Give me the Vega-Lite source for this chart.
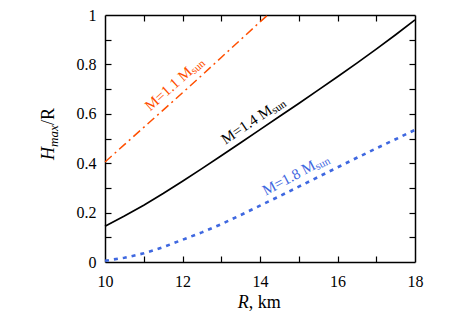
{
  "$schema": "https://vega.github.io/schema/vega-lite/v6.json",
  "width": 310,
  "height": 247,
  "autosize": {"type": "none"},
  "padding": {"left": 105, "top": 15, "right": 48, "bottom": 62},
  "background": "white",
  "config": {
    "font": "Liberation Serif",
    "view": {"stroke": null},
    "axis": {
      "grid": false,
      "domainColor": "black",
      "domainWidth": 1.5,
      "ticks": false,
      "tickColor": "black",
      "tickWidth": 1.2,
      "tickSize": 6,
      "labelColor": "black",
      "labelFont": "Liberation Serif",
      "labelFontSize": 16,
      "labelFlush": false,
      "labelOverlap": false,
      "zindex": 1,
      "title": null
    }
  },
  "datasets": {
    "curves": [
      {"M": "1.1", "R": 10, "H": 0.405}, {"M": "1.1", "R": 10.5, "H": 0.475}, {"M": "1.1", "R": 11, "H": 0.545},
      {"M": "1.1", "R": 11.5, "H": 0.615}, {"M": "1.1", "R": 12, "H": 0.685}, {"M": "1.1", "R": 12.5, "H": 0.756},
      {"M": "1.1", "R": 13, "H": 0.828}, {"M": "1.1", "R": 13.5, "H": 0.9}, {"M": "1.1", "R": 14, "H": 0.972},
      {"M": "1.1", "R": 14.2, "H": 1.0},
      {"M": "1.4", "R": 10, "H": 0.145}, {"M": "1.4", "R": 10.5, "H": 0.186}, {"M": "1.4", "R": 11, "H": 0.23},
      {"M": "1.4", "R": 11.5, "H": 0.277}, {"M": "1.4", "R": 12, "H": 0.327}, {"M": "1.4", "R": 12.5, "H": 0.378},
      {"M": "1.4", "R": 13, "H": 0.43}, {"M": "1.4", "R": 13.5, "H": 0.483}, {"M": "1.4", "R": 14, "H": 0.536},
      {"M": "1.4", "R": 14.5, "H": 0.589}, {"M": "1.4", "R": 15, "H": 0.642}, {"M": "1.4", "R": 15.5, "H": 0.696},
      {"M": "1.4", "R": 16, "H": 0.75}, {"M": "1.4", "R": 16.5, "H": 0.805}, {"M": "1.4", "R": 17, "H": 0.862},
      {"M": "1.4", "R": 17.5, "H": 0.92}, {"M": "1.4", "R": 18, "H": 0.98},
      {"M": "1.8", "R": 10, "H": 0.005}, {"M": "1.8", "R": 10.5, "H": 0.017}, {"M": "1.8", "R": 11, "H": 0.035},
      {"M": "1.8", "R": 11.5, "H": 0.06}, {"M": "1.8", "R": 12, "H": 0.09}, {"M": "1.8", "R": 12.5, "H": 0.12},
      {"M": "1.8", "R": 13, "H": 0.153}, {"M": "1.8", "R": 13.5, "H": 0.19}, {"M": "1.8", "R": 14, "H": 0.228},
      {"M": "1.8", "R": 14.5, "H": 0.266}, {"M": "1.8", "R": 15, "H": 0.305}, {"M": "1.8", "R": 15.5, "H": 0.344},
      {"M": "1.8", "R": 16, "H": 0.383}, {"M": "1.8", "R": 16.5, "H": 0.422}, {"M": "1.8", "R": 17, "H": 0.46},
      {"M": "1.8", "R": 17.5, "H": 0.497}, {"M": "1.8", "R": 18, "H": 0.535}
    ]
  },
  "layer": [
    {
      "data": {"name": "curves"},
      "transform": [{"filter": "datum.M == '1.1'"}],
      "mark": {"type": "line", "color": "#ff4f00", "strokeWidth": 1.5, "strokeDash": [9, 4, 2, 4]},
      "encoding": {
        "x": {"field": "R", "type": "quantitative", "scale": {"domain": [10, 18], "nice": false, "zero": false}, "axis": {"orient": "bottom", "values": [10, 12, 14, 16, 18], "labelPadding": 11}},
        "y": {"field": "H", "type": "quantitative", "scale": {"domain": [0, 1], "nice": false}, "axis": {"orient": "left", "values": [0, 0.2, 0.4, 0.6, 0.8, 1], "format": "~g", "labelPadding": 9}}
      }
    },
    {
      "data": {"name": "curves"},
      "transform": [{"filter": "datum.M == '1.4'"}],
      "mark": {"type": "line", "color": "black", "strokeWidth": 1.7},
      "encoding": {
        "x": {"field": "R", "type": "quantitative", "axis": {"orient": "top", "values": [10, 18], "labels": false}},
        "y": {"field": "H", "type": "quantitative", "axis": {"orient": "right", "values": [0, 1], "labels": false}}
      }
    },
    {
      "data": {"name": "curves"},
      "transform": [{"filter": "datum.M == '1.8'"}],
      "mark": {"type": "line", "color": "#3f68e0", "strokeWidth": 2.6, "strokeDash": [4, 5]},
      "encoding": {
        "x": {"field": "R", "type": "quantitative", "axis": {"orient": "bottom", "values": [11, 12, 13, 14, 15, 16, 17], "labels": false, "domain": false, "ticks": true, "offset": -6}},
        "y": {"field": "H", "type": "quantitative", "axis": {"orient": "left", "values": [0.1, 0.2, 0.3, 0.4, 0.5, 0.6, 0.7, 0.8, 0.9], "labels": false, "domain": false, "ticks": true, "offset": -6}}
      }
    },
    {
      "data": {"values": [{"R": 12.19, "H": 0.78, "t": "M=1.1 M"}]},
      "mark": {"type": "text", "color": "#ff4f00", "fontSize": 15, "align": "right", "baseline": "middle", "angle": 318},
      "encoding": {
        "text": {"field": "t"},
        "x": {"field": "R", "type": "quantitative", "axis": {"orient": "top", "values": [11, 12, 13, 14, 15, 16, 17], "labels": false, "domain": false, "ticks": true, "offset": -6}},
        "y": {"field": "H", "type": "quantitative", "axis": {"orient": "right", "values": [0.1, 0.2, 0.3, 0.4, 0.5, 0.6, 0.7, 0.8, 0.9], "labels": false, "domain": false, "ticks": true, "offset": -6}}
      }
    },
    {
      "data": {"values": [{"R": 12.19, "H": 0.78, "t": "sun"}]},
      "mark": {"type": "text", "color": "#ff4f00", "fontSize": 11, "align": "left", "baseline": "middle", "angle": 318, "dy": 4},
      "encoding": {"text": {"field": "t"}, "x": {"field": "R", "type": "quantitative", "axis": null}, "y": {"field": "H", "type": "quantitative", "axis": null}}
    },
    {
      "data": {"values": [{"R": 14.27, "H": 0.622, "t": "M=1.4 M"}]},
      "mark": {"type": "text", "color": "black", "fontSize": 15, "align": "right", "baseline": "middle", "angle": 326},
      "encoding": {"text": {"field": "t"}, "x": {"field": "R", "type": "quantitative", "axis": null}, "y": {"field": "H", "type": "quantitative", "axis": null}}
    },
    {
      "data": {"values": [{"R": 14.27, "H": 0.622, "t": "sun"}]},
      "mark": {"type": "text", "color": "black", "fontSize": 11, "align": "left", "baseline": "middle", "angle": 326, "dy": 4},
      "encoding": {"text": {"field": "t"}, "x": {"field": "R", "type": "quantitative", "axis": null}, "y": {"field": "H", "type": "quantitative", "axis": null}}
    },
    {
      "data": {"values": [{"R": 15.4, "H": 0.396, "t": "M=1.8 M"}]},
      "mark": {"type": "text", "color": "#3f68e0", "fontSize": 15, "align": "right", "baseline": "middle", "angle": 332},
      "encoding": {"text": {"field": "t"}, "x": {"field": "R", "type": "quantitative", "axis": null}, "y": {"field": "H", "type": "quantitative", "axis": null}}
    },
    {
      "data": {"values": [{"R": 15.4, "H": 0.396, "t": "sun"}]},
      "mark": {"type": "text", "color": "#3f68e0", "fontSize": 11, "align": "left", "baseline": "middle", "angle": 332, "dy": 4},
      "encoding": {"text": {"field": "t"}, "x": {"field": "R", "type": "quantitative", "axis": null}, "y": {"field": "H", "type": "quantitative", "axis": null}}
    },
    {
      "data": {"values": [{"R": 13.71, "H": -0.165, "t": "R"}]},
      "mark": {"type": "text", "color": "black", "fontSize": 18, "fontStyle": "italic", "align": "right", "baseline": "middle"},
      "encoding": {"text": {"field": "t"}, "x": {"field": "R", "type": "quantitative", "axis": null}, "y": {"field": "H", "type": "quantitative", "axis": null}}
    },
    {
      "data": {"values": [{"R": 13.71, "H": -0.165, "t": ", km"}]},
      "mark": {"type": "text", "color": "black", "fontSize": 18, "align": "left", "baseline": "middle"},
      "encoding": {"text": {"field": "t"}, "x": {"field": "R", "type": "quantitative", "axis": null}, "y": {"field": "H", "type": "quantitative", "axis": null}}
    },
    {
      "data": {"values": [{"R": 8.566, "H": 0.466, "t": "H"}]},
      "mark": {"type": "text", "color": "black", "fontSize": 18, "fontStyle": "italic", "align": "right", "baseline": "middle", "angle": 270},
      "encoding": {"text": {"field": "t"}, "x": {"field": "R", "type": "quantitative", "axis": null}, "y": {"field": "H", "type": "quantitative", "axis": null}}
    },
    {
      "data": {"values": [{"R": 8.566, "H": 0.466, "t": "max"}]},
      "mark": {"type": "text", "color": "black", "fontSize": 13, "fontStyle": "italic", "align": "left", "baseline": "middle", "angle": 270, "dy": 5},
      "encoding": {"text": {"field": "t"}, "x": {"field": "R", "type": "quantitative", "axis": null}, "y": {"field": "H", "type": "quantitative", "axis": null}}
    },
    {
      "data": {"values": [{"R": 8.566, "H": 0.466, "t": "/R"}]},
      "mark": {"type": "text", "color": "black", "fontSize": 18, "align": "left", "baseline": "middle", "angle": 270, "dx": 22},
      "encoding": {"text": {"field": "t"}, "x": {"field": "R", "type": "quantitative", "axis": null}, "y": {"field": "H", "type": "quantitative", "axis": null}}
    }
  ],
  "resolve": {"axis": {"x": "independent", "y": "independent"}}
}
